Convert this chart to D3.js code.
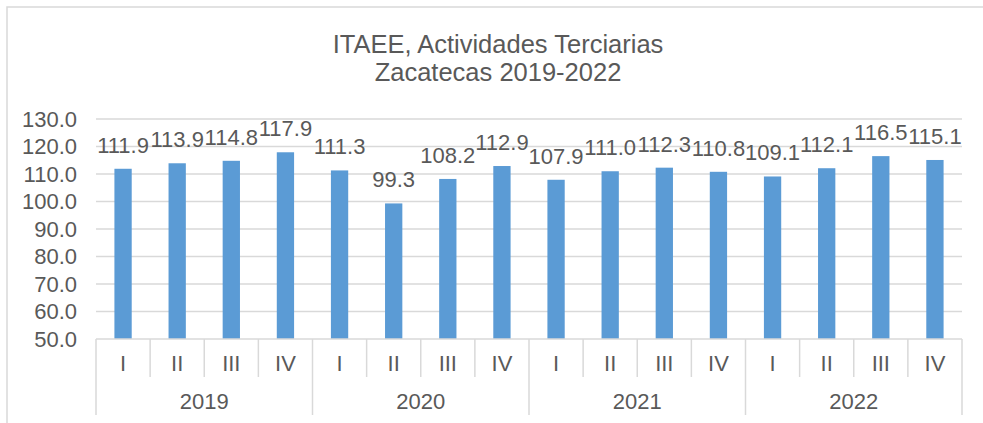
<!DOCTYPE html>
<html>
<head>
<meta charset="utf-8">
<script src="https://cdn.jsdelivr.net/npm/d3@7"></script>
<style>
  body { margin: 0; background: #fff; }
  svg { font-family: 'Liberation Sans', Arial, sans-serif; }
</style>
</head>
<body>
<svg id="chart" width="983" height="423"></svg>
<script>
const years = ['2019', '2020', '2021', '2022']
const quarters = ['I', 'II', 'III', 'IV']
const values = [
  111.9, 113.9, 114.8, 117.9,
  111.3, 99.3, 108.2, 112.9,
  107.9, 111.0, 112.3, 110.8,
  109.1, 112.1, 116.5, 115.1,
]
const yTicks = [50, 60, 70, 80, 90, 100, 110, 120, 130]
const titleLines = ['ITAEE, Actividades Terciarias', 'Zacatecas 2019-2022']

const svg = d3.select('#chart')
const textColor = '#595959'
const gridColor = '#d9d9d9'
const fontSize = 22

// outer chart frame (runs off the right and bottom edges like the source)
svg.append('rect')
  .attr('x', 7).attr('y', 7)
  .attr('width', 1000).attr('height', 500)
  .attr('fill', 'none')
  .attr('stroke', gridColor)
  .attr('stroke-width', 1.5)

// title
svg.append('g')
  .selectAll('text')
  .data(titleLines)
  .enter()
  .append('text')
  .attr('x', 498)
  .attr('y', (d, i) => 53 + i * 28)
  .attr('text-anchor', 'middle')
  .attr('fill', textColor)
  .attr('font-size', 25.5)
  .text((d) => d)

// build the flat category list
const data = []
years.forEach((y) => {
  quarters.forEach((q) => {
    data.push({ year: y, q: q, key: y + '-' + q, value: values[data.length] })
  })
})

const plotLeft = 96, plotRight = 962, plotTop = 119, plotBottom = 339

const xScale = d3.scaleBand()
  .domain(data.map((d) => d.key))
  .range([plotLeft, plotRight])
  .paddingInner(0)

const yScale = d3.scaleLinear()
  .domain([50, 130])
  .range([plotBottom, plotTop])

// gridlines
svg.append('g')
  .selectAll('line')
  .data(yTicks.slice(1))
  .enter()
  .append('line')
  .attr('x1', plotLeft).attr('x2', plotRight)
  .attr('y1', (d) => yScale(d)).attr('y2', (d) => yScale(d))
  .attr('stroke', gridColor)
  .attr('stroke-width', 1.5)

// y axis labels
svg.append('g')
  .selectAll('text')
  .data(yTicks)
  .enter()
  .append('text')
  .attr('x', 77)
  .attr('y', (d) => yScale(d))
  .attr('dy', '0.35em')
  .attr('text-anchor', 'end')
  .attr('fill', textColor)
  .attr('font-size', fontSize)
  .text((d) => d.toFixed(1))

// bars
const barW = 17.3
svg.append('g')
  .selectAll('rect')
  .data(data)
  .enter()
  .append('rect')
  .attr('x', (d) => xScale(d.key) + xScale.bandwidth() / 2 - barW / 2)
  .attr('y', (d) => yScale(d.value))
  .attr('width', barW)
  .attr('height', (d) => yScale(50) - yScale(d.value))
  .attr('fill', '#5b9bd5')

// data labels
svg.append('g')
  .selectAll('text')
  .data(data)
  .enter()
  .append('text')
  .attr('x', (d) => xScale(d.key) + xScale.bandwidth() / 2)
  .attr('y', (d) => yScale(d.value) - 16)
  .attr('text-anchor', 'middle')
  .attr('fill', textColor)
  .attr('font-size', fontSize)
  .text((d) => d.value.toFixed(1))

// category axis: baseline, quarter separators, year separators
const axis = svg.append('g')
axis.append('line')
  .attr('x1', plotLeft).attr('x2', plotRight)
  .attr('y1', plotBottom).attr('y2', plotBottom)
  .attr('stroke', gridColor).attr('stroke-width', 1.5)

const edges = data.map((d) => xScale(d.key)).concat([plotRight])
axis.selectAll('line.sep')
  .data(edges)
  .enter()
  .append('line')
  .attr('class', 'sep')
  .attr('x1', (d) => d).attr('x2', (d) => d)
  .attr('y1', plotBottom)
  .attr('y2', (d, i) => (i % 4 === 0 ? 415 : 377))
  .attr('stroke', gridColor).attr('stroke-width', 1.5)

axis.selectAll('text.q')
  .data(data)
  .enter()
  .append('text')
  .attr('class', 'q')
  .attr('x', (d) => xScale(d.key) + xScale.bandwidth() / 2)
  .attr('y', 363)
  .attr('dy', '0.35em')
  .attr('text-anchor', 'middle')
  .attr('fill', textColor)
  .attr('font-size', fontSize)
  .text((d) => d.q)

axis.selectAll('text.y')
  .data(years)
  .enter()
  .append('text')
  .attr('class', 'y')
  .attr('x', (d) => (xScale(d + '-I') + xScale(d + '-IV') + xScale.bandwidth()) / 2)
  .attr('y', 401)
  .attr('dy', '0.35em')
  .attr('text-anchor', 'middle')
  .attr('fill', textColor)
  .attr('font-size', fontSize)
  .text((d) => d)
</script>
</body>
</html>
